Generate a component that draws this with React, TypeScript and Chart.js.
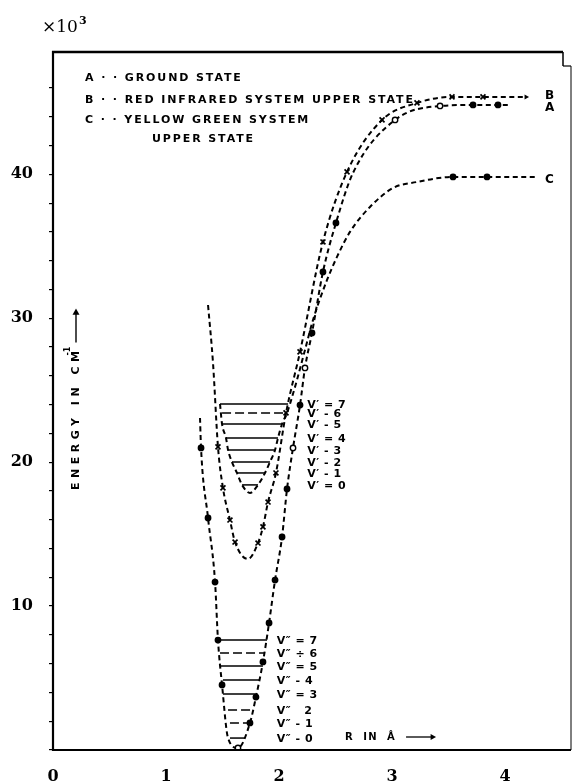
import React, { useEffect, useRef } from "react";
import { Chart, registerables } from "chart.js";

Chart.register(...registerables);

// ---- Axis ticks ----
const xTicks = [0, 1, 2, 3, 4];
const yTicks = [10, 20, 30, 40];

// ---- Curve A : ground state (R in Å, energy in 10^3 cm^-1) ----
const curveA_R = [1.301, 1.31, 1.372, 1.434, 1.46, 1.496, 1.549, 1.637, 1.743, 1.796, 1.858, 1.912, 1.965, 2.027, 2.071, 2.124, 2.186, 2.23, 2.292, 2.389, 2.504, 2.655, 3.027, 3.425, 3.717, 3.938, 4.044];
const curveA_E = [23.07, 20.99, 16.12, 11.67, 7.64, 4.52, 0.83, 0.14, 1.88, 3.68, 6.12, 8.83, 11.81, 14.8, 18.14, 20.99, 23.97, 26.55, 28.98, 33.22, 36.62, 40.1, 43.78, 44.75, 44.82, 44.82, 44.82];
const curveA_marks = ["", "•", "•", "•", "•", "•", "", "o", "•", "•", "•", "•", "•", "•", "•", "o", "•", "o", "•", "•", "•", "", "o", "o", "•", "•", ""];

// ---- Curve B : red infrared system upper state ----
const curveB_R = [1.372, 1.416, 1.46, 1.504, 1.566, 1.611, 1.726, 1.814, 1.858, 1.903, 1.973, 2.062, 2.186, 2.389, 2.602, 2.912, 3.221, 3.531, 3.805, 4.195];
const curveB_E = [30.92, 26.89, 21.06, 18.21, 15.98, 14.45, 13.27, 14.38, 15.5, 17.23, 19.25, 23.42, 27.66, 35.3, 40.17, 43.78, 44.96, 45.38, 45.38, 45.38];
const curveB_marks = ["", "", "x", "x", "x", "x", "", "x", "x", "x", "x", "x", "x", "x", "x", "x", "x", "x", "x", ""];

// ---- Curve C : yellow green system upper state ----
const curveC_R = [1.478, 1.496, 1.531, 1.549, 1.584, 1.628, 1.673, 1.743, 1.814, 1.876, 1.92, 1.965, 1.991, 2.027, 2.071, 2.097, 2.159, 2.23, 2.301, 2.425, 2.513, 2.628, 2.805, 3.009, 3.221, 3.54, 3.841, 4.265];
const curveC_E = [24.04, 22.65, 21.68, 20.85, 20.01, 19.25, 18.42, 17.86, 18.42, 19.25, 20.01, 20.85, 21.68, 22.65, 23.42, 24.04, 25.71, 27.8, 29.88, 32.66, 34.26, 36.0, 37.73, 39.05, 39.47, 39.82, 39.82, 39.82];
const curveC_marks = ["", "", "", "", "", "", "", "", "", "", "", "", "", "", "", "", "", "", "", "", "", "", "", "", "", "•", "•", ""];

// ---- Vibrational levels ----
const upperLevelE = [18.42, 19.25, 20.01, 20.85, 21.68, 22.65, 23.42, 24.04];
const upperLevelL = [1.673, 1.628, 1.584, 1.549, 1.531, 1.496, 1.496, 1.478];
const upperLevelR = [1.814, 1.876, 1.92, 1.965, 1.991, 2.027, 2.062, 2.08];
const upperLevelLabels = ["V′ = 0", "V′ - 1", "V′ - 2", "V′ - 3", "V′ = 4", "V′ - 5", "V′ - 6", "V′ = 7"];

const lowerLevelE = [0.83, 1.88, 2.78, 3.89, 4.86, 5.84, 6.74, 7.64];
const lowerLevelL = [1.566, 1.566, 1.549, 1.504, 1.504, 1.478, 1.478, 1.46];
const lowerLevelR = [1.699, 1.743, 1.761, 1.796, 1.832, 1.858, 1.876, 1.894];
const lowerLevelLabels = ["V″ - 0", "V″ - 1", "V″   2", "V″ = 3", "V″ - 4", "V″ = 5", "V″ ÷ 6", "V″ = 7"];

// ---- Texts ----
const legendLines = ["A · · GROUND STATE", "B · · RED INFRARED SYSTEM UPPER STATE", "C · · YELLOW GREEN SYSTEM", "UPPER STATE"];
const endLabels = ["A", "B", "C"];
const yTitle = "ENERGY IN CM";
const xTitle = "R  IN  Å";
const multiplier = "×10";
const multiplierExp = "3";

const SANS = '"DejaVu Sans", sans-serif';
const SERIF = '"DejaVu Serif", serif';

function toPoints(R: number[], E: number[]) {
  return R.map((r, i) => ({ x: r, y: E[i] }));
}

function curveDataset(R: number[], E: number[], marks: string[]) {
  return {
    type: "line" as const,
    data: toPoints(R, E),
    borderColor: "#000",
    borderWidth: 2,
    borderDash: [5, 3.5],
    cubicInterpolationMode: "monotone" as const,
    fill: false,
    pointStyle: marks.map((m) => (m === "x" ? "crossRot" : "circle")),
    pointRadius: marks.map((m) => (m === "" ? 0 : m === "x" ? 3.5 : 2.7)),
    pointBackgroundColor: marks.map((m) => (m === "o" ? "#fff" : "#000")),
    pointBorderColor: "#000",
    pointBorderWidth: marks.map((m) => (m === "x" ? 1.7 : 1.4)),
    pointHoverRadius: 0,
  };
}

function levelDatasets(E: number[], L: number[], Rr: number[], dashedIdx: number[]) {
  return E.map((e, i) => ({
    type: "line" as const,
    data: [
      { x: L[i], y: e },
      { x: Rr[i], y: e },
    ],
    borderColor: "#000",
    borderWidth: 1.5,
    borderDash: dashedIdx.includes(i) ? [9, 4] : [],
    pointRadius: 0,
    fill: false,
  }));
}

const decor = {
  id: "decor",
  afterDraw(chart: any) {
    const { ctx, chartArea: ca, scales } = chart;
    const xs = scales.x;
    const ys = scales.y;
    ctx.save();
    ctx.strokeStyle = "#000";
    ctx.fillStyle = "#000";

    const line = (x1: number, y1: number, x2: number, y2: number, w: number) => {
      ctx.beginPath();
      ctx.lineWidth = w;
      ctx.moveTo(x1, y1);
      ctx.lineTo(x2, y2);
      ctx.stroke();
    };
    const arrowHead = (x: number, y: number, dir: number, size: number) => {
      ctx.beginPath();
      ctx.moveTo(x, y);
      ctx.lineTo(x - dir * size * 1.8, y - size);
      ctx.lineTo(x - dir * size * 1.8, y + size);
      ctx.closePath();
      ctx.fill();
    };

    // frame
    line(ca.left, ca.top - 1, ca.left, ca.bottom + 1, 2.2);
    line(ca.left - 1, ca.bottom, ca.right, ca.bottom, 2);
    line(ca.left - 1, ca.top, ca.right - 8, ca.top, 2.6);
    line(ca.right - 8, ca.top, ca.right - 8, ca.top + 14, 1.5);
    line(ca.right - 8, ca.top + 14, ca.right, ca.top + 14, 1.2);
    line(ca.right, ca.top + 14, ca.right, ca.bottom, 1);

    // ×10^3
    ctx.textAlign = "left";
    ctx.textBaseline = "alphabetic";
    ctx.font = `17px ${SERIF}`;
    ctx.fillText(multiplier, 42, 32);
    const mw = ctx.measureText(multiplier).width;
    ctx.font = `bold 11px ${SERIF}`;
    ctx.fillText(multiplierExp, 42 + mw + 1, 24);

    // legend
    ctx.font = `bold 11px ${SANS}`;
    (ctx as any).letterSpacing = "1.9px";
    ctx.textBaseline = "middle";
    const legY = [78, 100, 120, 139];
    const legX = [85, 85, 85, 152];
    legendLines.forEach((t, i) => ctx.fillText(t, legX[i], legY[i]));

    // end labels + arrow on B
    const ends = [chart.data.datasets[0], chart.data.datasets[1], chart.data.datasets[2]];
    ctx.font = `bold 12px ${SANS}`;
    (ctx as any).letterSpacing = "0px";
    ends.forEach((ds: any, i: number) => {
      const last = ds.data[ds.data.length - 1];
      const py = ys.getPixelForValue(last.y) + (i === 0 ? 3 : i === 1 ? -1 : 3);
      ctx.fillText(endLabels[i], ca.right - 26, py);
    });
    const bLast = ends[1].data[ends[1].data.length - 1];
    arrowHead(xs.getPixelForValue(bLast.x) + 2, ys.getPixelForValue(bLast.y), 1, 2.5);

    // level labels
    ctx.font = `bold 11px ${SANS}`;
    (ctx as any).letterSpacing = "0.5px";
    upperLevelE.forEach((e, i) => {
      ctx.fillText(upperLevelLabels[i], xs.getPixelForValue(2.25), ys.getPixelForValue(e) + 1);
    });
    lowerLevelE.forEach((e, i) => {
      ctx.fillText(lowerLevelLabels[i], xs.getPixelForValue(1.98), ys.getPixelForValue(e) + 1);
    });

    // x title
    ctx.font = `bold 10px ${SANS}`;
    (ctx as any).letterSpacing = "1.2px";
    const xtX = 345;
    const xtY = 737;
    ctx.fillText(xTitle, xtX, xtY);
    const xtw = ctx.measureText(xTitle).width;
    line(xtX + xtw + 10, xtY, xtX + xtw + 38, xtY, 1.3);
    arrowHead(xtX + xtw + 40, xtY, 1, 3);

    // y title (rotated)
    ctx.save();
    ctx.translate(76, 490);
    ctx.rotate(-Math.PI / 2);
    ctx.font = `bold 11px ${SANS}`;
    (ctx as any).letterSpacing = "4.5px";
    ctx.textBaseline = "middle";
    ctx.fillText(yTitle, 0, 0);
    const tw = ctx.measureText(yTitle).width;
    ctx.font = `bold 8px ${SANS}`;
    (ctx as any).letterSpacing = "0px";
    ctx.fillText("-1", tw - 9, -8);
    line(tw + 4, 0, tw + 34, 0, 1.4);
    arrowHead(tw + 38, 0, 1, 3.5);
    ctx.restore();

    ctx.restore();
  },
};

export default function App() {
  const ref = useRef<HTMLCanvasElement>(null);

  useEffect(() => {
    const canvas = ref.current;
    if (!canvas) return;

    const datasets: any[] = [
      curveDataset(curveA_R, curveA_E, curveA_marks),
      curveDataset(curveB_R, curveB_E, curveB_marks),
      curveDataset(curveC_R, curveC_E, curveC_marks),
      ...levelDatasets(upperLevelE, upperLevelL, upperLevelR, [6]),
      ...levelDatasets(lowerLevelE, lowerLevelL, lowerLevelR, [1, 2, 6]),
    ];

    const chart = new Chart(canvas, {
      type: "line",
      data: { datasets },
      options: {
        responsive: false,
        animation: false,
        devicePixelRatio: 1,
        events: [],
        layout: { padding: { top: 52, right: 2, left: 0, bottom: 0 } },
        plugins: {
          legend: { display: false },
          tooltip: { enabled: false },
        },
        scales: {
          x: {
            type: "linear",
            min: 0,
            max: 4.584,
            grid: { display: false, drawTicks: false },
            border: { display: false },
            ticks: {
              color: "#000",
              font: { family: SERIF, size: 16, weight: "bold" },
              padding: 17,
              maxRotation: 0,
              autoSkip: false,
            },
            afterBuildTicks: (s: any) => {
              s.ticks = xTicks.map((v) => ({ value: v }));
            },
            afterFit: (s: any) => {
              s.height = 33;
            },
          },
          y: {
            type: "linear",
            min: 0,
            max: 48.5,
            grid: { drawOnChartArea: false, drawTicks: true, tickLength: 4, color: "#000", lineWidth: 1.2 },
            border: { display: false },
            ticks: {
              color: "#000",
              stepSize: 2,
              font: { family: SERIF, size: 16, weight: "bold" },
              padding: 16,
              autoSkip: false,
              callback: (v: any) => (yTicks.includes(Number(v)) ? String(v) : ""),
            },
            afterBuildTicks: (s: any) => {
              s.ticks = s.ticks.filter((t: any) => Math.abs(t.value % 2) < 1e-9);
            },
            afterFit: (s: any) => {
              s.width = 53;
            },
          },
        },
      },
      plugins: [decor],
    } as any);

    return () => chart.destroy();
  }, []);

  return (
    <div style={{ position: "absolute", left: 0, top: 0, width: 573, height: 783, background: "#fff" }}>
      <canvas ref={ref} width={573} height={783} style={{ display: "block" }} />
    </div>
  );
}
